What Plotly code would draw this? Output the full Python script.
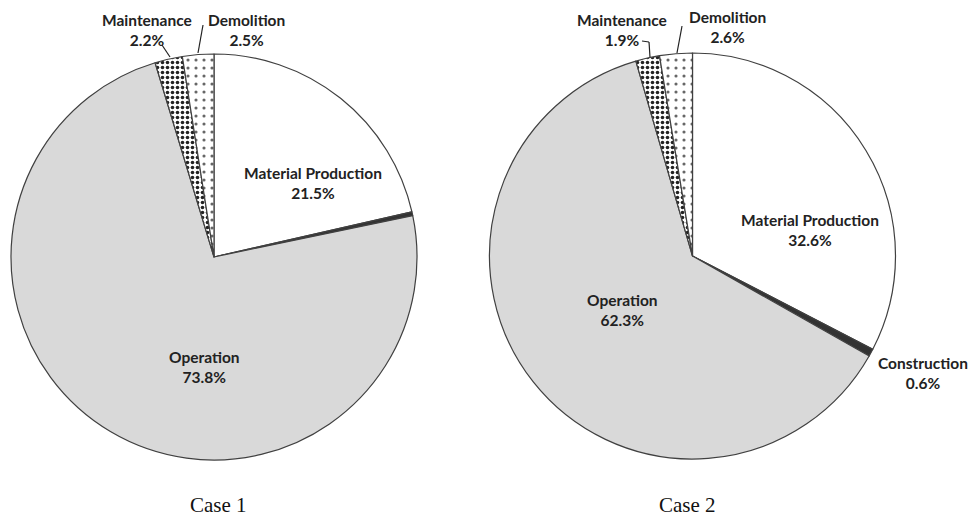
import plotly.graph_objects as go

# ---- data ----
categories = ["Material Production", "Construction", "Operation", "Maintenance", "Demolition"]
case1_values = [21.5, 0.3, 73.8, 2.2, 2.5]
case2_values = [32.6, 0.6, 62.3, 1.9, 2.6]
case_titles = ["Case 1", "Case 2"]
case1_shown = ["Material Production", "Operation", "Maintenance", "Demolition"]
case2_shown = ["Material Production", "Construction", "Operation", "Maintenance", "Demolition"]

# ---- styles ----
W, H = 970, 517
fill_colors = ["#ffffff", "#333333", "#d9d9d9", "#ffffff", "#ffffff"]
pattern_shapes = ["", "", "", ".", "."]
pattern_fg = ["#000", "#000", "#000", "#222222", "#666666"]
pattern_size = [6, 6, 6, 5, 8]
pattern_sol = [0.3, 0.3, 0.3, 0.4, 0.12]
label_font = dict(family="Lato, Open Sans, sans-serif", size=15.5, color="#222222")

def px_x(x):
    return x / W

def px_y(y):
    return 1 - y / H

fig = go.Figure()

domains = [
    dict(x=[px_x(11), px_x(417)], y=[px_y(460), px_y(54)]),
    dict(x=[px_x(489), px_x(896)], y=[px_y(459), px_y(53)]),
]

for vals, dom in zip([case1_values, case2_values], domains):
    fig.add_trace(go.Pie(
        labels=categories,
        values=vals,
        sort=False,
        direction="clockwise",
        rotation=0,
        domain=dom,
        textinfo="none",
        hoverinfo="label+percent",
        marker=dict(
            colors=fill_colors,
            line=dict(color="#404040", width=1.2),
            pattern=dict(shape=pattern_shapes, fgcolor=pattern_fg, bgcolor="#ffffff",
                         size=pattern_size, solidity=pattern_sol, fillmode="replace"),
        ),
        showlegend=False,
    ))

# label positions (pixel centres of the label blocks)
label_pos = {
    0: {"Material Production": (313, 183), "Operation": (204, 367),
        "Maintenance": (147, 30), "Demolition": (246, 30)},
    1: {"Material Production": (810, 230), "Construction": (923, 373),
        "Operation": (622, 310), "Maintenance": (622, 30), "Demolition": (727, 27)},
}

for ci, (vals, shown) in enumerate([(case1_values, case1_shown), (case2_values, case2_shown)]):
    for name in shown:
        v = vals[categories.index(name)]
        x, y = label_pos[ci][name]
        fig.add_annotation(
            x=px_x(x), y=px_y(y), xref="paper", yref="paper",
            text=f"<b>{name}</b><br><b>{v:.1f}%</b>",
            showarrow=False, font=label_font, align="center",
            xanchor="center", yanchor="middle",
        )

# leader lines
leaders = [
    [(162, 45), (170, 57)],
    [(203, 25), (198, 53)],
    [(642, 41), (649, 42), (650, 57)],
    [(682, 26), (677, 53)],
]
for pts in leaders:
    for (x0, y0), (x1, y1) in zip(pts[:-1], pts[1:]):
        fig.add_shape(type="line", xref="paper", yref="paper",
                      x0=px_x(x0), y0=px_y(y0), x1=px_x(x1), y1=px_y(y1),
                      line=dict(color="#222222", width=1.2))

# case titles
for title, xc in zip(case_titles, [218, 687]):
    fig.add_annotation(
        x=px_x(xc), y=px_y(505), xref="paper", yref="paper",
        text=title, showarrow=False,
        font=dict(family="Liberation Serif, Times New Roman, serif", size=21, color="#111111"),
        xanchor="center", yanchor="middle",
    )

fig.update_layout(
    width=W, height=H,
    margin=dict(l=0, r=0, t=0, b=0),
    paper_bgcolor="white", plot_bgcolor="white",
)

fig.write_html("out.html", config={"displayModeBar": False},
               post_script="document.body.style.margin='0';document.body.style.overflow='hidden';")
